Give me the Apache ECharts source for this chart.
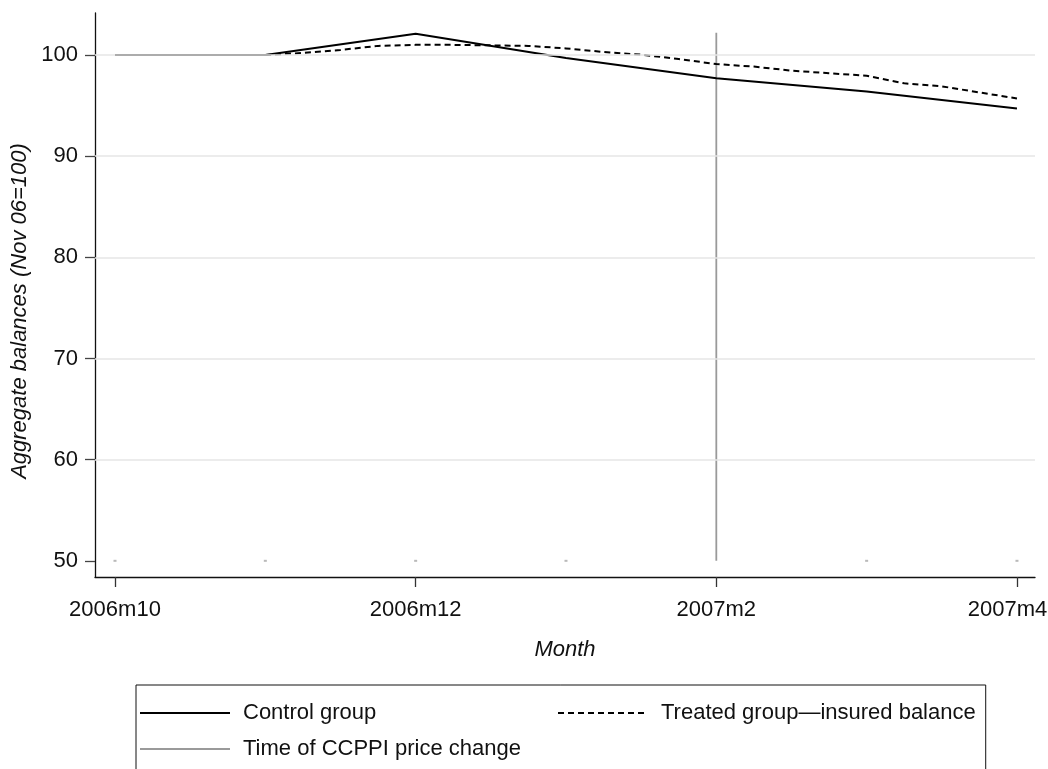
<!DOCTYPE html>
<html>
<head>
<meta charset="utf-8">
<script src="https://cdn.jsdelivr.net/npm/echarts@6/dist/echarts.min.js"></script>
<style>
  html, body { margin: 0; padding: 0; background: #fff; }
  #chart { width: 1048px; height: 769px; }
</style>
</head>
<body>
<div id="chart"></div>
<script>
// Month index 0 = 2006m10 ... 6 = 2007m4
const monthLabels = ['2006m10', '2006m11', '2006m12', '2007m1', '2007m2', '2007m3', '2007m4'];
const labelledMonths = [0, 2, 4, 6];
const yTicks = [50, 60, 70, 80, 90, 100];
const gridValues = [60, 70, 80, 90, 100];

// Control group, monthly (Nov 06 = 100)
const controlMonths = [0, 1, 2, 3, 4, 5, 6];
const controlValues = [100, 100, 102.1, 99.7, 97.7, 96.4, 94.7];

// Treated group, insured balance, weekly-ish observations (month index)
const treatedTimes = [0, 0.25, 0.5, 0.75, 1, 1.25, 1.5, 1.75, 2, 2.25, 2.5, 2.75, 3,
                      3.25, 3.5, 3.75, 4, 4.25, 4.5, 4.75, 5, 5.25, 5.5, 5.75, 6];
const treatedValues = [100, 100, 100, 100, 100, 100.2, 100.5, 100.9, 101.0, 101.0, 100.95, 100.9, 100.65,
                       100.3, 100.03, 99.6, 99.1, 98.85, 98.45, 98.2, 97.95, 97.2, 96.9, 96.3, 95.7];

// Price change marker: spike at 2007m2, base markers at 50 for other months
const priceChangeMonth = 4;
const priceChangeRange = [50, 102.2];
const baseMonths = [0, 1, 2, 3, 5, 6];
const baseValue = 50;

const font = '"Liberation Sans", Arial, Helvetica, sans-serif';
const fs = 22;
const lastMonth = labelledMonths[labelledMonths.length - 1];

const chart = echarts.init(document.getElementById('chart'), null, { renderer: 'canvas' });

chart.setOption({
  animation: false,
  backgroundColor: '#fff',
  textStyle: { fontFamily: font },
  grid: { left: 95, right: 13, top: 13, bottom: 192, outerBoundsMode: 'none', containLabel: false },
  xAxis: {
    type: 'value',
    min: -0.133,
    max: 6.12,
    name: 'Month',
    nameLocation: 'middle',
    nameGap: 62,
    nameTextStyle: { fontFamily: font, fontStyle: 'italic', fontSize: fs, color: '#111' },
    axisLine: { show: true, onZero: false, lineStyle: { color: '#111', width: 1.3 } },
    axisTick: { show: true, inside: false, length: 10, customValues: labelledMonths, lineStyle: { color: '#333', width: 1.3 } },
    axisLabel: {
      customValues: labelledMonths,
      margin: 22,
      fontFamily: font, fontSize: fs, color: '#111',
      // keep the last label inside the canvas edge
      formatter: v => Math.round(v) === lastMonth
        ? '{edge|' + monthLabels[Math.round(v)] + '}'
        : monthLabels[Math.round(v)],
      rich: { edge: { fontFamily: font, fontSize: fs, color: '#111', padding: [0, 19, 0, 0] } }
    },
    splitLine: { show: false }
  },
  yAxis: {
    type: 'value',
    min: 48.4,
    max: 104.15,
    name: 'Aggregate balances (Nov 06=100)',
    nameLocation: 'middle',
    nameGap: 61,
    nameTextStyle: { fontFamily: font, fontStyle: 'italic', fontSize: fs, color: '#111', padding: [0, 32, 0, 0] },
    axisLine: { show: true, onZero: false, lineStyle: { color: '#111', width: 1.3 } },
    axisTick: { show: true, inside: false, length: 10, customValues: yTicks, lineStyle: { color: '#444', width: 1.3 } },
    axisLabel: { customValues: yTicks, margin: 17, fontFamily: font, fontSize: fs, color: '#111' },
    splitLine: { show: false }
  },
  legend: {
    left: 136,
    top: 685,
    width: 860,
    orient: 'horizontal',
    padding: [17, 10, 60, 3],
    itemGap: 14,
    itemWidth: 90,
    itemHeight: 14,
    borderColor: '#111',
    borderWidth: 1,
    borderRadius: 0,
    itemStyle: { opacity: 0 },
    data: ['Control group', 'Treated group\u2014insured balance', 'Time of CCPPI price change'],
    formatter: name => '{a|' + name + '}',
    textStyle: {
      fontFamily: font, fontSize: fs, color: '#111',
      rich: { a: { fontFamily: font, fontSize: fs, color: '#111', width: 300, lineHeight: 18, padding: [0, 0, 0, 8] } }
    }
  },
  series: [
    {
      name: 'gridlines',
      type: 'line',
      data: [],
      z: 1,
      silent: true,
      markLine: {
        silent: true,
        symbol: 'none',
        label: { show: false },
        lineStyle: { color: '#e6e6e6', type: 'solid', width: 1.5 },
        data: gridValues.map(v => ({ yAxis: v }))
      }
    },
    {
      name: 'Time of CCPPI price change',
      type: 'line',
      z: 2,
      symbol: 'none',
      color: '#9a9a9a',
      lineStyle: { color: '#9a9a9a', width: 1.8 },
      data: priceChangeRange.map(v => [priceChangeMonth, v])
    },
    {
      name: 'price change base',
      type: 'scatter',
      z: 2,
      symbol: 'rect',
      symbolSize: [3, 2],
      itemStyle: { color: '#a8a8a8' },
      data: baseMonths.map(m => [m, baseValue])
    },
    {
      name: 'Treated group\u2014insured balance',
      type: 'line',
      z: 3,
      symbol: 'none',
      color: '#000',
      lineStyle: { color: '#000', width: 2, type: [6, 4] },
      data: treatedTimes.map((t, i) => [t, treatedValues[i]])
    },
    {
      name: 'Control group',
      type: 'line',
      z: 4,
      symbol: 'none',
      color: '#000',
      lineStyle: { color: '#000', width: 2 },
      data: controlMonths.map((m, i) => [m, controlValues[i]])
    }
  ]
});
</script>
</body>
</html>
